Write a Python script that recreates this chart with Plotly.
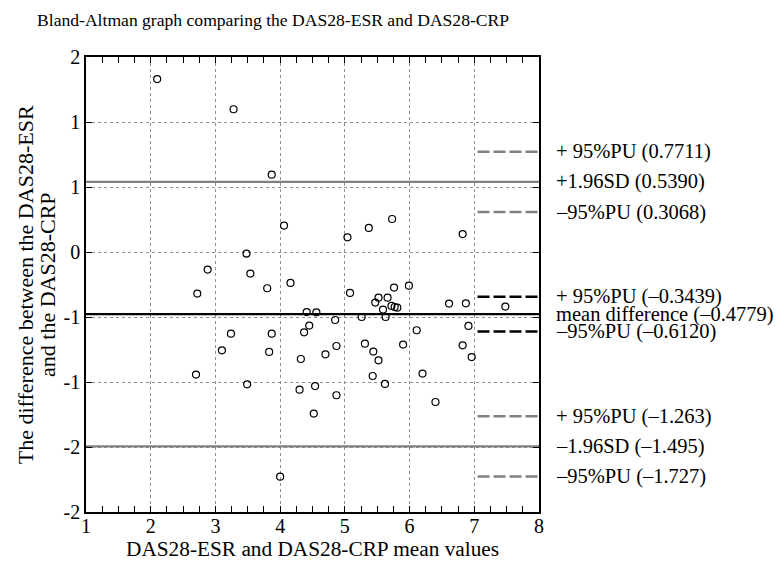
import plotly.graph_objects as go

# ---- data ----
mean_values = [2.10, 3.28, 3.87, 4.06, 3.48, 5.04, 5.37, 5.73, 6.82,
               2.88, 2.72, 3.54, 3.80, 4.16, 4.41, 4.56, 4.45, 4.37, 3.87, 3.24,
               3.10, 3.83, 4.32, 4.70, 2.70, 3.49, 4.30, 4.54, 4.52, 4.00,
               4.85, 4.87, 4.87, 5.08, 5.26, 5.31, 5.44, 5.52, 5.43, 5.62,
               5.47, 5.52, 5.66, 5.76, 5.99, 5.59, 5.63, 5.72, 5.77, 5.81,
               5.90, 6.11, 6.20, 6.40, 6.61, 6.87, 6.91, 6.82, 6.96, 7.48]
differences = [1.330, 1.098, 0.595, 0.203, -0.012, 0.113, 0.185, 0.254, 0.138,
               -0.135, -0.320, -0.166, -0.279, -0.238, -0.462, -0.464, -0.566, -0.618, -0.628, -0.628,
               -0.756, -0.769, -0.823, -0.787, -0.943, -1.018, -1.059, -1.031, -1.243, -1.728,
               -0.523, -0.723, -1.102, -0.315, -0.500, -0.705, -0.766, -0.833, -0.954, -1.015,
               -0.389, -0.351, -0.351, -0.274, -0.259, -0.443, -0.500, -0.415, -0.423, -0.428,
               -0.712, -0.602, -0.935, -1.154, -0.397, -0.395, -0.569, -0.718, -0.808, -0.420]

# limits of agreement: upper SD, mean, lower SD
limit_values = [0.5390, -0.4779, -1.495]
limit_labels = ["+1.96SD (0.5390)", "mean difference (\u20130.4779)", "\u20131.96SD (\u20131.495)"]
pu_upper_values = [0.7711, -0.3439, -1.263]
pu_upper_labels = ["+ 95%PU (0.7711)", "+ 95%PU (\u20130.3439)", "+ 95%PU (\u20131.263)"]
pu_lower_values = [0.3068, -0.6120, -1.727]
pu_lower_labels = ["\u201395%PU (0.3068)", "\u201395%PU (\u20130.6120)", "\u201395%PU (\u20131.727)"]

y_tick_values = [-2.0, -1.5, -1.0, -0.5, 0.0, 0.5, 1.0, 1.5]
y_tick_labels = ["-2", "-2", "-1", "-1", "0", "1", "1", "2"]
x_tick_values = [1, 2, 3, 4, 5, 6, 7, 8]

x_min, x_max = 1, 8
pu_x_start = 7.05

FONT = "Liberation Serif"
GRAY = "#808080"

fig = go.Figure()

fig.add_trace(go.Scatter(
    x=mean_values, y=differences, mode="markers",
    marker=dict(symbol="circle-open", size=7, color="black", line=dict(width=1.2)),
    showlegend=False, hoverinfo="x+y"))

limit_colors = [GRAY, "black", GRAY]
for v, c in zip(limit_values, limit_colors):
    fig.add_trace(go.Scatter(x=[x_min, x_max], y=[v, v], mode="lines",
                             line=dict(color=c, width=2.3), showlegend=False, hoverinfo="skip"))

for vals in (pu_upper_values, pu_lower_values):
    for v, c in zip(vals, limit_colors):
        fig.add_trace(go.Scatter(x=[pu_x_start, x_max], y=[v, v], mode="lines",
                                 line=dict(color=c, width=2.5, dash="12px,4px"),
                                 showlegend=False, hoverinfo="skip"))

annotations = []
for vals, labs in ((pu_upper_values, pu_upper_labels), (limit_values, limit_labels),
                   (pu_lower_values, pu_lower_labels)):
    for v, t in zip(vals, labs):
        annotations.append(dict(x=1.033, xref="paper", y=v, yref="y", text=t,
                                showarrow=False, xanchor="left", yanchor="middle",
                                font=dict(family=FONT, size=20.5, color="black")))

annotations.append(dict(x=-0.133, xref="paper", y=0.5, yref="paper",
                        text="The difference between the DAS28-ESR", textangle=-90,
                        showarrow=False, xanchor="center", yanchor="middle",
                        font=dict(family=FONT, size=22, color="black")))
annotations.append(dict(x=-0.085, xref="paper", y=0.5, yref="paper",
                        text="and the DAS28-CRP", textangle=-90,
                        showarrow=False, xanchor="center", yanchor="middle",
                        font=dict(family=FONT, size=22, color="black")))
annotations.append(dict(x=0.5, xref="paper", y=-0.082, yref="paper",
                        text="DAS28-ESR and DAS28-CRP mean values",
                        showarrow=False, xanchor="center", yanchor="middle",
                        font=dict(family=FONT, size=21.3, color="black")))

# the page adds an 8px body margin, so the figure is sized and offset accordingly
fig.update_layout(
    width=776, height=554,
    margin=dict(l=78, r=245, t=49, b=50),
    paper_bgcolor="white", plot_bgcolor="white",
    font=dict(family=FONT, size=20, color="black"),
    title=dict(text="Bland-Altman graph comparing the DAS28-ESR and DAS28-CRP",
               x=0.0374, xanchor="left", y=0.978, yanchor="middle",
               font=dict(family=FONT, size=17.6, color="black")),
    annotations=annotations,
)

fig.update_xaxes(
    range=[x_min, x_max], tickmode="array", tickvals=x_tick_values,
    ticks="inside", ticklen=6, tickcolor="black", tickwidth=1,
    minor=dict(dtick=0.25, tick0=1, ticks="inside", ticklen=6, tickcolor="black", showgrid=False),
    showgrid=True, gridcolor="#909090", griddash="dot", gridwidth=1,
    showline=True, linecolor="black", linewidth=1.5, mirror="ticks",
    zeroline=False, automargin=False, ticklabelstandoff=-5,
    tickfont=dict(family=FONT, size=20),
)
fig.update_yaxes(
    range=[-2, 1.5], tickmode="array", tickvals=y_tick_values, ticktext=y_tick_labels,
    ticks="inside", ticklen=6, tickcolor="black", tickwidth=1,
    showgrid=True, gridcolor="#909090", griddash="dot", gridwidth=1,
    showline=True, linecolor="black", linewidth=1.5, mirror="ticks",
    zeroline=False, automargin=False, tickfont=dict(family=FONT, size=20),
)

fig.write_html("out.html")
